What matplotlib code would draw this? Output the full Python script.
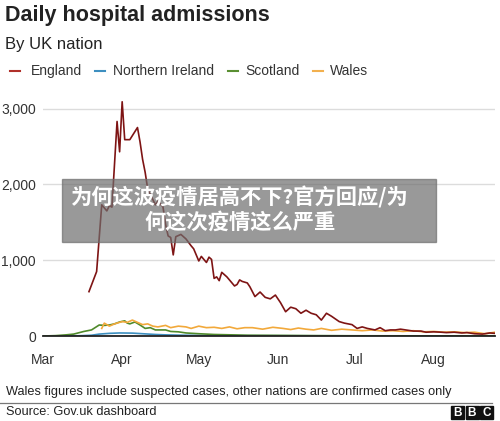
import matplotlib
matplotlib.use("Agg")
import matplotlib.pyplot as plt
import pandas as pd
from matplotlib.patches import Rectangle

plt.rcParams['font.family'] = ['Liberation Sans', 'DejaVu Sans']

# ---------------- data ----------------
england_dates = ["03-19", "03-22", "03-24", "03-26", "03-27", "03-28", "03-30", "03-31", "04-01",
                 "04-02", "04-04", "04-07", "04-08", "04-09", "04-10", "04-11", "04-14", "04-15",
                 "04-17", "04-18", "04-19", "04-20", "04-21", "04-22", "04-24", "04-26", "04-28",
                 "04-29", "05-01", "05-02", "05-03", "05-04", "05-05", "05-06", "05-07", "05-08",
                 "05-09", "05-10", "05-11", "05-12", "05-13", "05-15", "05-16", "05-17", "05-18",
                 "05-20", "05-21", "05-23", "05-25", "05-27", "05-29", "05-31", "06-02", "06-04",
                 "06-06", "06-08", "06-10", "06-12", "06-14", "06-16", "06-18", "06-20", "06-22",
                 "06-25", "06-27", "06-30", "07-02", "07-04", "07-06", "07-09", "07-11", "07-13",
                 "07-15", "07-17", "07-19", "07-22", "07-24", "07-27", "07-29", "08-01", "08-04",
                 "08-06", "08-09", "08-12", "08-14", "08-17", "08-20", "08-23", "08-25"]
england = [585, 850, 1730, 1650, 1720, 1700, 2830, 2430, 3090,
           2590, 2590, 2750, 2560, 2330, 2160, 1940, 1730, 1780,
           1700, 1470, 1320, 1300, 1070, 1310, 1340, 1280, 1190,
           1150, 990, 1050, 1010, 970, 1040, 1010, 760, 780,
           730, 840, 810, 780, 740, 660, 680, 740, 720,
           700, 650, 520, 580, 510, 490, 540, 440, 320,
           380, 360, 300, 340, 300, 280, 210, 300, 260,
           190, 170, 150, 100, 120, 100, 80, 110, 70,
           80, 80, 90, 75, 65, 65, 50, 55, 50,
           45, 50, 40, 45, 30, 25, 40, 35]

ni_dates = ["03-01", "03-15", "03-20", "03-23", "03-27", "03-31", "04-05", "04-09", "04-14",
            "04-18", "04-25", "05-05", "05-20", "06-10", "07-01", "08-01", "08-25"]
northern_ireland = [0, 3, 10, 25, 35, 40, 38, 30, 20, 15, 10, 6, 4, 3, 2, 1, 2]

scot_dates = ["03-01", "03-06", "03-10", "03-13", "03-17", "03-20", "03-23", "03-25", "03-27",
              "03-29", "03-31", "04-02", "04-03", "04-04", "04-06", "04-08", "04-10", "04-12",
              "04-14", "04-18", "04-20", "04-23", "04-26", "05-01", "05-07", "05-14", "05-20",
              "06-01", "06-15", "07-01", "08-01", "08-25"]
scotland = [0, 5, 15, 25, 60, 80, 145, 140, 145,
            160, 185, 200, 170, 160, 185, 145, 100, 110,
            80, 80, 60, 55, 40, 30, 20, 15, 10,
            8, 5, 3, 2, 3]

wales_dates = ["03-24", "03-25", "03-27", "03-29", "04-01", "04-03", "04-05", "04-07", "04-09",
               "04-11", "04-13", "04-15", "04-18", "04-20", "04-23", "04-26", "04-28", "05-01",
               "05-04", "05-07", "05-10", "05-13", "05-16", "05-19", "05-22", "05-26", "05-30",
               "06-03", "06-06", "06-09", "06-12", "06-15", "06-18", "06-22", "06-26", "06-30",
               "07-04", "07-08", "07-12", "07-16", "07-20", "07-24", "07-28", "08-01", "08-05",
               "08-09", "08-13", "08-17", "08-21", "08-25"]
wales = [100, 170, 130, 160, 190, 180, 210, 180, 150,
         160, 130, 120, 140, 110, 130, 120, 100, 130,
         110, 115, 100, 120, 95, 110, 110, 90, 115,
         100, 85, 105, 90, 80, 100, 75, 90, 80,
         70, 80, 65, 70, 60, 70, 55, 60, 50,
         55, 45, 50, 30, 50]

series_names = ["England", "Northern Ireland", "Scotland", "Wales"]
series_colors = ["#7e1414", "#3d8fc0", "#4f8a2b", "#f2a93b"]
legend_colors = ["#b0302a", "#3d8fc0", "#5a8f32", "#f2b04e"]
month_ticks = ["03-01", "04-01", "05-01", "06-01", "07-01", "08-01"]
month_labels = ["Mar", "Apr", "May", "Jun", "Jul", "Aug"]
y_ticks = [0, 1000, 2000, 3000]
y_labels = ["0", "1,000", "2,000", "3,000"]

def to_dt(lst):
    return pd.to_datetime(["2020-" + s for s in lst])

# ---------------- figure ----------------
W, H = 500, 421
fig = plt.figure(figsize=(W / 100, H / 100), dpi=100)

def fx(px):
    return px / W

def fy(py):
    return 1 - py / H

ax_left, ax_right, ax_zero, ax_top = 43, 495, 336, 101
ymax = 3100
ax = fig.add_axes([fx(ax_left), fy(ax_zero), fx(ax_right - ax_left), fy(ax_top) - fy(ax_zero)])

data = [(ni_dates, northern_ireland), (scot_dates, scotland), (wales_dates, wales), (england_dates, england)]
order_colors = [series_colors[1], series_colors[2], series_colors[3], series_colors[0]]
for (d, v), c in zip(data, order_colors):
    ax.plot(to_dt(d), v, color=c, lw=1.2, solid_joinstyle='round', zorder=3)

ax.set_xlim(pd.Timestamp("2020-03-01"), pd.Timestamp("2020-08-25"))
ax.set_ylim(0, ymax)
ax.set_yticks(y_ticks)
ax.set_yticklabels(y_labels)
ax.set_xticks(to_dt(month_ticks))
ax.set_xticklabels(month_labels)
for s in ax.spines.values():
    s.set_visible(False)
ax.tick_params(axis='both', length=0, labelsize=10, colors='#333333')
ax.tick_params(axis='x', pad=12)
ax.tick_params(axis='y', pad=5)
ax.grid(axis='y', color='#dcdcdc', lw=1.0, zorder=0)
ax.grid(axis='x', visible=False)
ax.axhline(0, color='#222222', lw=1.3, zorder=4, clip_on=False)

# ---------------- titles & legend ----------------
fig.text(fx(5), fy(15), "Daily hospital admissions", fontsize=15.5, fontweight='bold',
         color='#222222', va='center', ha='left')
fig.text(fx(5), fy(44), "By UK nation", fontsize=12, color='#222222', va='center', ha='left')

leg_x = [10, 95, 228, 313]
text_x = [31, 113, 245, 330]
for name, c, x0, tx in zip(series_names, legend_colors, leg_x, text_x):
    fig.add_artist(plt.Line2D([fx(x0), fx(x0 + 10)], [fy(71), fy(71)], color=c, lw=1.5))
    fig.text(fx(tx), fy(71), name, fontsize=10, color='#333333', va='center', ha='left')

# ---------------- footer ----------------
fig.text(fx(6), fy(392), "Wales figures include suspected cases, other nations are confirmed cases only",
         fontsize=9.2, color='#222222', va='center', ha='left')
fig.add_artist(plt.Line2D([0, fx(492)], [fy(403), fy(403)], color='#777777', lw=0.9))
fig.text(fx(6), fy(412), "Source: Gov.uk dashboard", fontsize=9.2, color='#222222', va='center', ha='left')

for i, letter in enumerate(["B", "B", "C"]):
    x0 = 451 + i * 14.5
    fig.add_artist(Rectangle((fx(x0), fy(419)), fx(13), fy(406) - fy(419), color='#111111',
                             transform=fig.transFigure))
    fig.text(fx(x0 + 6.5), fy(412.5), letter, fontsize=8.5, fontweight='bold', color='white',
             ha='center', va='center')

# ---------------- overlay banner ----------------
fig.add_artist(Rectangle((fx(62), fy(242)), fx(436 - 62), fy(179) - fy(242), color='#6e6e6e',
                         alpha=0.7, transform=fig.transFigure, zorder=10))
fig.text(fx(240), fy(197), "为何这波疫情居高不下?官方回应/为", fontsize=15.3, fontweight='bold',
         color='white', ha='center', va='center', family=['Noto Sans CJK SC', 'DejaVu Sans'], zorder=11)
fig.text(fx(240), fy(222), "何这次疫情这么严重", fontsize=15.3, fontweight='bold',
         color='white', ha='center', va='center', family=['Noto Sans CJK SC', 'DejaVu Sans'], zorder=11)

fig.savefig("out.png", dpi=100, facecolor='white')
